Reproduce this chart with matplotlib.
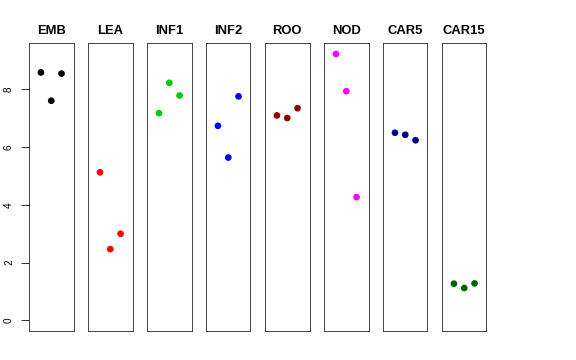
import numpy as np
import matplotlib
matplotlib.use("Agg")
from matplotlib import pyplot as plt

plt.rcParams['font.family'] = ['Liberation Sans', 'DejaVu Sans']

groups = ['EMB', 'LEA', 'INF1', 'INF2', 'ROO', 'NOD', 'CAR5', 'CAR15']
colors = ['#000000', '#FF0000', '#00CD00', '#0000FF', '#8B0000', '#FF00FF', '#00008B', '#006400']

emb = [8.59, 7.61, 8.55]
lea = [5.13, 2.47, 3.00]
inf1 = [7.18, 8.23, 7.79]
inf2 = [6.74, 5.64, 7.76]
roo = [7.10, 7.01, 7.35]
nod = [9.23, 7.94, 4.27]
car5 = [6.50, 6.43, 6.24]
car15 = [1.27, 1.12, 1.28]
values = [emb, lea, inf1, inf2, roo, nod, car5, car15]

yticks = [0, 2, 4, 6, 8]
ymax = max(max(v) for v in values)

fig = plt.figure(figsize=(8, 5), dpi=72)

left = 29 / 576
bottom, top = 1 - 331 / 360, 1 - 43.3 / 360
pitch = 59.0 / 576
width = 44.5 / 576

for i, (name, vals, col) in enumerate(zip(groups, values, colors)):
    ax = fig.add_axes([left + i * pitch, bottom, width, top - bottom])
    x = np.arange(1, len(vals) + 1)
    ax.scatter(x, vals, s=45, color=col, edgecolors='none', zorder=3)
    ax.set_xlim(-0.16, 4.16)
    ax.set_ylim(-0.04 * ymax, ymax * 1.04)
    ax.set_xticks([])
    for sp in ax.spines.values():
        sp.set_linewidth(0.9)
        sp.set_color('#333333')
    ax.set_title(name, fontsize=13, fontweight='bold', pad=9)
    if i == 0:
        ax.set_yticks(yticks)
        ax.set_yticklabels([str(t) for t in yticks], rotation=90, va='center', fontsize=10)
        ax.tick_params(axis='y', length=8, width=0.8, pad=7)
    else:
        ax.set_yticks([])

fig.savefig('out.png', dpi=72)
